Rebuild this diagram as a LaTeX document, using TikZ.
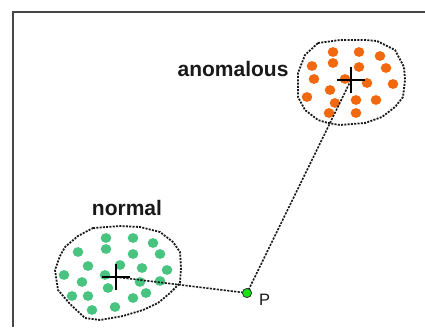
\documentclass[tikz,border=0pt]{standalone}
\usepackage{fontspec}
\setmainfont{Liberation Sans}
\definecolor{normgreen}{RGB}{72,196,128}
\definecolor{anomorange}{RGB}{242,104,14}
\definecolor{pgreen}{RGB}{20,230,20}
\definecolor{framegray}{RGB}{70,70,70}
\begin{document}
\begin{tikzpicture}[x=1pt,y=-1pt,
  outline/.style={draw=black!90,line width=1.8pt,dash pattern=on 2pt off 1.3pt,line join=round},
  link/.style={draw=black!90,line width=1.6pt,dash pattern=on 2.2pt off 1.3pt},
  ndot/.style={fill=normgreen,draw=none},
  adot/.style={fill=anomorange,draw=none},
  crossmark/.style={draw=black,line width=2.5pt},
  lab/.style={font=\fontsize{21}{24}\selectfont\bfseries,text=black!90,inner sep=0pt,anchor=base},
  plab/.style={font=\fontsize{16.5}{18}\selectfont,text=black!90,inner sep=0pt,anchor=base west}]
\useasboundingbox (0,0) rectangle (425,327);
% frame
\draw[framegray,line width=1.3pt] (13,327) -- (13,12) -- (425,12);
% cluster outlines
\draw[outline] (93,228) -- (120,226) -- (140,227) -- (160,232) -- (173,242) -- (180,252) -- (181,268) -- (180,283) -- (170,293) -- (158,303) -- (143,310) -- (123,316) -- (100,320) -- (85,318) -- (70,304) -- (58,290) -- (55,270) -- (60,256) -- (65,247) -- (78,236) -- cycle;
\draw[outline] (318,43) -- (340,40) -- (365,40) -- (377,41) -- (395,50) -- (404,67) -- (405,80) -- (403,97) -- (395,107) -- (382,117) -- (365,123) -- (340,125) -- (328,123) -- (318,120) -- (305,110) -- (298,97) -- (298,73) -- (305,55) -- cycle;
% normal dots
\foreach \x/\y in {106/238,133/238,153/243,78/252,106/249,133/254,160/254,88/266,120/265,142/268,167/270,64/275,105/275,82/282,108/288,140/282,160/281,72/296,88/296,133/298,146/293,92/310,115/307}
  \fill[ndot] (\x,\y) ellipse [x radius=5.3, y radius=4.9];
% anomalous dots
\foreach \x/\y in {333/52,359/52,380/56,312/66,333/63,359/67,386/68,314/79,345/79,367/83,393/84,330/90,307/97,356/100,376/100,335/103,329/113,356/113}
  \fill[adot] (\x,\y) ellipse [x radius=5.3, y radius=4.9];
% centres and point
\coordinate (cn) at (116,277);
\coordinate (ca) at (351,80);
\node[circle,fill=pgreen,draw=black!80,line width=0.7pt,minimum size=9pt,inner sep=0pt] (p) at (247,293) {};
\draw[link] (cn) -- (p.center);
\draw[link] (p.center) -- (ca);
\node[circle,fill=pgreen,draw=black!80,line width=0.7pt,minimum size=9pt,inner sep=0pt] at (p) {};
% crosses
\draw[crossmark] ([xshift=-14pt]cn) -- ([xshift=14pt]cn) ([yshift=-13pt]cn) -- ([yshift=13pt]cn);
\draw[crossmark] ([xshift=-14pt]ca) -- ([xshift=14pt]ca) ([yshift=-13pt]ca) -- ([yshift=13pt]ca);
% labels
\node[lab] (lanom) at (233,76) {anomalous};
\node[lab] (lnorm) at (127,215) {normal};
\node[plab] (lp) at (259,305) {P};
\end{tikzpicture}
\end{document}
